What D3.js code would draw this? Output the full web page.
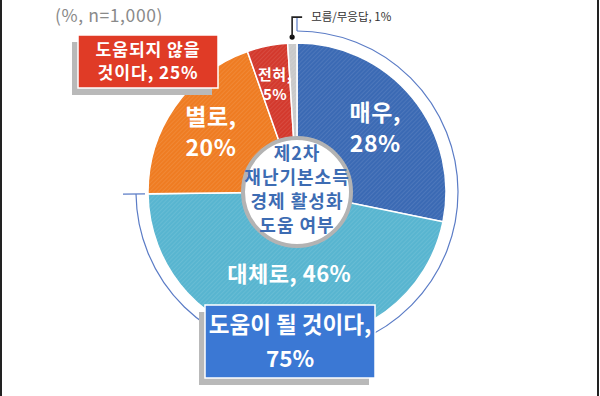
<!DOCTYPE html>
<html><head><meta charset="utf-8">
<script src="https://cdn.jsdelivr.net/npm/d3@7"></script>
<style>
html,body{margin:0;padding:0;background:#fff;}
svg{display:block;font-family:"Noto Sans CJK KR","Noto Sans",sans-serif;}
</style></head>
<body><svg id="c" width="600" height="396"></svg>
<script>
// ---- data ----
const categories = ["매우", "대체로", "별로", "전혀", "모름/무응답"];
const values = [28.2, 46.6, 19.8, 4.4, 1.0];
const valueLabels = ["28%", "46%", "20%", "5%", "1%"];
const groupPositive = ["도움이 될 것이다,", "75%"];
const groupNegative = ["도움되지 않을", "것이다, 25%"];
const centerTitle = ["제2차", "재난기본소득", "경제 활성화", "도움 여부"];
const noteText = "(%, n=1,000)";

// ---- styles ----
const colors = ["#3b6ab4", "#58b5d0", "#ef7c22", "#d3392d", "#c9c9c9"];
const svg = d3.select("#c");
const W = 600, H = 396;
const cx = 297, cy = 192, R = 149, holeR = 54, arcR = 161;

// hatch patterns
const defs = svg.append("defs");
colors.forEach((c, i) => {
  const p = defs.append("pattern").attr("id", "h" + i).attr("patternUnits", "userSpaceOnUse")
    .attr("width", 3).attr("height", 3).attr("patternTransform", "rotate(45)");
  p.append("rect").attr("width", 3).attr("height", 3).attr("fill", c);
  p.append("line").attr("x1", 0).attr("y1", 0).attr("x2", 0).attr("y2", 3)
    .attr("stroke", "#fff").attr("stroke-opacity", 0.18).attr("stroke-width", 1);
});

// frame lines left/right
svg.append("line").attr("x1", 1).attr("x2", 1).attr("y1", 0).attr("y2", H).attr("stroke", "#222").attr("stroke-width", 2);
svg.append("line").attr("x1", 598).attr("x2", 598).attr("y1", 0).attr("y2", H).attr("stroke", "#222").attr("stroke-width", 2);

// note
svg.append("text").attr("x", 55).attr("y", 22).attr("fill", "#8a8a8a").attr("font-size", 17.5)
  .attr("letter-spacing", 0.6).text(noteText);

const g = svg.append("g").attr("transform", `translate(${cx},${cy})`);
const pie = d3.pie().sort(null).value(d => d);
const arcs = pie(values);
const arc = d3.arc().innerRadius(0).outerRadius(R);

g.selectAll("path.s").data(arcs).join("path").attr("class", "s")
  .attr("d", arc).attr("fill", (d, i) => `url(#h${i})`)
  .attr("stroke", "#fff").attr("stroke-width", 1.5);

// outer bracket arc for positive group (매우 + 대체로)
const posEnd = arcs[1].endAngle;
g.append("path").attr("d", d3.arc()({innerRadius: arcR, outerRadius: arcR, startAngle: 0, endAngle: posEnd}))
  .attr("fill", "none").attr("stroke", "#5b7cc6").attr("stroke-width", 1.2);
function radial(a, r0, r1) {
  return [[r0 * Math.sin(a), -r0 * Math.cos(a)], [r1 * Math.sin(a), -r1 * Math.cos(a)]];
}
[[0, arcR, arcR + 13], [posEnd, arcR - 9, arcR + 13]].forEach(([a, r0, r1]) => {
  const pts = radial(a, r0, r1);
  g.append("line").attr("x1", pts[0][0]).attr("y1", pts[0][1]).attr("x2", pts[1][0]).attr("y2", pts[1][1])
    .attr("stroke", "#5b7cc6").attr("stroke-width", 1.2);
});

// center hole
g.append("circle").attr("r", holeR).attr("fill", "#fff").attr("stroke", "#b3b3b3").attr("stroke-width", 4);
centerTitle.forEach((t, i) => {
  g.append("text").attr("text-anchor", "middle").attr("fill", "#3d6cb3")
    .attr("font-weight", 700).attr("font-size", 18).attr("letter-spacing", 1)
    .attr("x", 0).attr("y", -39 + i * 24 + 6.5).text(t);
});

// slice labels
const labelR = [101, 82, 105, 110];
const labelSize = [23, 22, 23, 15];
arcs.slice(0, 4).forEach((d, i) => {
  const a = (d.startAngle + d.endAngle) / 2;
  const x = labelR[i] * Math.sin(a), y = -labelR[i] * Math.cos(a);
  const t = g.append("text").attr("text-anchor", "middle").attr("fill", "#fff")
    .attr("font-weight", 700).attr("font-size", labelSize[i]).attr("letter-spacing", 0.5);
  if (i === 1) {
    t.attr("x", x).attr("y", y + 8).text(categories[i] + ", " + valueLabels[i]);
  } else {
    const lh = labelSize[i] * 1.35;
    t.append("tspan").attr("x", x).attr("y", y - lh / 2 + labelSize[i] * 0.36).text(categories[i] + ",");
    t.append("tspan").attr("x", x).attr("y", y + lh / 2 + labelSize[i] * 0.36).text(valueLabels[i]);
  }
});

// 모름/무응답 leader
const dk = arcs[4];
const da = (dk.startAngle + dk.endAngle) / 2;
const p0 = [cx + (R + 6) * Math.sin(da), cy - (R + 6) * Math.cos(da)];
svg.append("circle").attr("cx", p0[0]).attr("cy", p0[1]).attr("r", 2.6).attr("fill", "#111");
svg.append("polyline").attr("points", `${p0[0]},${p0[1]} ${p0[0]},${p0[1] - 20} ${p0[0] + 10},${p0[1] - 20}`)
  .attr("fill", "none").attr("stroke", "#222").attr("stroke-width", 1.6);
svg.append("text").attr("x", p0[0] + 19).attr("y", p0[1] - 16).attr("font-size", 11.5).attr("fill", "#333")
  .text(categories[4] + ", " + valueLabels[4]);

// boxes
function box(x, y, w, h, fill, lines, fs, lh, ls) {
  svg.append("rect").attr("x", x - 6).attr("y", y + 7).attr("width", w).attr("height", h).attr("fill", "#b9b9b9");
  svg.append("rect").attr("x", x).attr("y", y).attr("width", w).attr("height", h).attr("fill", fill)
    .attr("stroke", "#fff").attr("stroke-width", 1.5);
  lines.forEach((l, i) => svg.append("text").attr("text-anchor", "middle").attr("fill", "#fff")
    .attr("font-weight", 700).attr("font-size", fs).attr("letter-spacing", ls)
    .attr("x", x + w / 2)
    .attr("y", y + h / 2 + (i - (lines.length - 1) / 2) * lh + fs * 0.36).text(l));
}
box(78, 35, 140, 53, "#e03b26", groupNegative, 17.2, 23, 0.9);
box(205, 305, 170, 73, "#3b78d4", groupPositive, 22.5, 34, 0);
</script></body></html>
